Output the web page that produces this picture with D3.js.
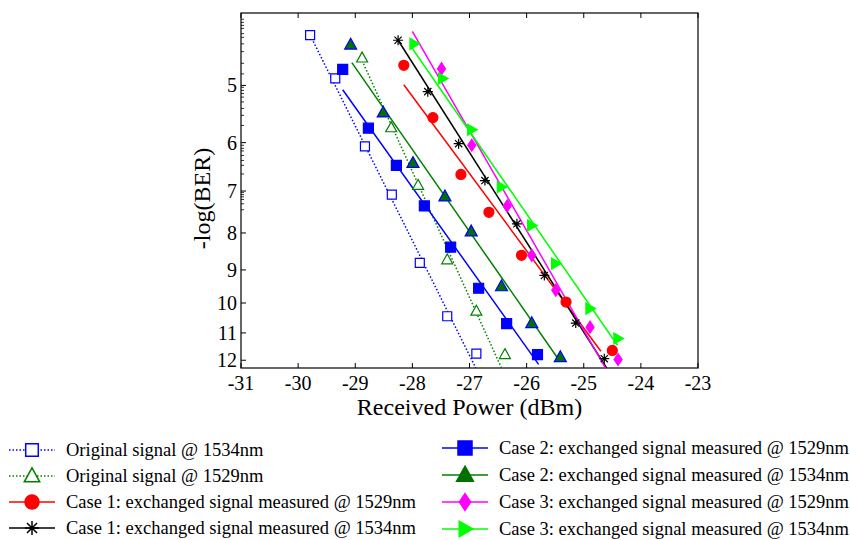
<!DOCTYPE html>
<html>
<head>
<meta charset="utf-8">
<script src="https://cdn.jsdelivr.net/npm/d3@7"></script>
<style>
  body { margin: 0; background: #fff; }
  svg text { font-family: "Liberation Serif", "Times New Roman", serif; fill: #000; }
</style>
</head>
<body>
<div id="chart"></div>
<script>
// tick values
var xTicks = [-31, -30, -29, -28, -27, -26, -25, -24, -23];
var yTicks = [5, 6, 7, 8, 9, 10, 11, 12];
var yMinorTicks = [4.05, 4.09, 4.13, 4.17, 4.24, 4.29, 4.38, 4.49, 4.66, 4.82,
                   5.03, 5.08, 5.13, 5.19, 5.27, 5.38, 5.5, 5.68,
                   6.05, 6.11, 6.16, 6.25, 6.35, 6.45, 6.63,
                   7.03, 7.08, 7.13, 7.19, 7.29, 7.43];

// measured points, x = received power (dBm), y = -log(BER)
var orig1534X = [-29.79, -29.35, -28.83, -28.36, -27.87, -27.39, -26.88];
var orig1534Y = [4.26, 4.89, 6.07, 7.08, 8.80, 10.43, 11.75];
var orig1529X = [-28.88, -28.37, -27.90, -27.39, -26.88, -26.38];
var orig1529Y = [4.58, 5.72, 6.87, 8.71, 10.26, 11.78];
var c1m1529X = [-28.15, -27.64, -27.15, -26.66, -26.09, -25.31, -24.50];
var c1m1529Y = [4.69, 5.54, 6.64, 7.49, 8.59, 9.97, 11.63];
var c1m1534X = [-28.25, -27.73, -27.19, -26.73, -26.17, -25.69, -25.14, -24.64];
var c1m1534Y = [4.33, 5.10, 6.02, 6.77, 7.77, 9.16, 10.66, 11.94];
var c2m1529X = [-29.22, -28.77, -28.28, -27.79, -27.33, -26.84, -26.35, -25.81];
var c2m1529Y = [4.75, 5.73, 6.45, 7.34, 8.37, 9.54, 10.68, 11.79];
var c2m1534X = [-29.08, -28.51, -27.99, -27.43, -26.97, -26.44, -25.91, -25.41];
var c2m1534Y = [4.39, 5.45, 6.40, 7.12, 7.96, 9.48, 10.66, 11.88];
var c3m1529X = [-27.49, -26.96, -26.34, -25.91, -25.49, -24.89, -24.40];
var c3m1529Y = [4.74, 6.05, 7.34, 8.59, 9.60, 10.80, 11.97];
var c3m1534X = [-27.97, -27.47, -26.96, -26.44, -25.91, -25.49, -24.89, -24.40];
var c3m1534Y = [4.38, 4.89, 5.76, 6.91, 7.81, 8.82, 10.18, 11.20];

// fitted lines: [start, end] as [power, -log(BER)]
var fitOrig1534 = [[-29.79, 4.26], [-26.89, 12.3]];
var fitOrig1529 = [[-28.88, 4.62], [-26.44, 12.3]];
var fitC1m1529 = [[-28.15, 4.99], [-24.70, 11.66]];
var fitC1m1534 = [[-28.25, 4.33], [-24.60, 12.3]];
var fitC2m1529 = [[-29.22, 5.07], [-25.79, 12.16]];
var fitC2m1534 = [[-29.06, 4.65], [-25.44, 11.97]];
var fitC3m1529 = [[-28.00, 4.21], [-24.62, 12.3]];
var fitC3m1534 = [[-28.04, 4.40], [-24.41, 11.44]];

var series = [
  {name: "Original signal @ 1534nm", xs: orig1534X, ys: orig1534Y, fit: fitOrig1534,
   color: "#0000ff", dash: "1.5,2", shape: "square", fill: "#fff", edge: "#0000ff", size: 9, col: 0, row: 0},
  {name: "Original signal @ 1529nm", xs: orig1529X, ys: orig1529Y, fit: fitOrig1529,
   color: "#008000", dash: "1.5,2", shape: "triangle", fill: "#fff", edge: "#008000", size: 11, col: 0, row: 1},
  {name: "Case 1: exchanged signal measured @ 1529nm", xs: c1m1529X, ys: c1m1529Y, fit: fitC1m1529,
   color: "#ff0000", dash: null, shape: "circle", fill: "#ff0000", edge: "#ff0000", size: 10, col: 0, row: 2},
  {name: "Case 1: exchanged signal measured @ 1534nm", xs: c1m1534X, ys: c1m1534Y, fit: fitC1m1534,
   color: "#000000", dash: null, shape: "asterisk", fill: "none", edge: "#000000", size: 10, col: 0, row: 3},
  {name: "Case 2: exchanged signal measured @ 1529nm", xs: c2m1529X, ys: c2m1529Y, fit: fitC2m1529,
   color: "#0000ff", dash: null, shape: "square", fill: "#0000ff", edge: "#0000ff", size: 10, col: 1, row: 0},
  {name: "Case 2: exchanged signal measured @ 1534nm", xs: c2m1534X, ys: c2m1534Y, fit: fitC2m1534,
   color: "#008000", dash: null, shape: "triangle", fill: "#007000", edge: "#0000ff", size: 12, col: 1, row: 1},
  {name: "Case 3: exchanged signal measured @ 1529nm", xs: c3m1529X, ys: c3m1529Y, fit: fitC3m1529,
   color: "#ff00ff", dash: null, shape: "diamond", fill: "#ff00ff", edge: "#ff00ff", size: 10, col: 1, row: 2},
  {name: "Case 3: exchanged signal measured @ 1534nm", xs: c3m1534X, ys: c3m1534Y, fit: fitC3m1534,
   color: "#00ff00", dash: null, shape: "triRight", fill: "#00ff00", edge: "#00ff00", size: 11, col: 1, row: 3}
];

var width = 850, height = 540;
var pLeft = 241, pRight = 698, pTop = 13, pBottom = 368;

var svg = d3.select("#chart").append("svg")
    .attr("width", width).attr("height", height);

var x = d3.scaleLinear().domain([-31, -23]).range([pLeft, pRight]);
var y = d3.scaleLog().domain([3.97, 12.3]).range([pTop, pBottom]);

function markerPath(shape, s) {
    var h = s / 2;
    if (shape == "square") return "M" + (-h) + "," + (-h) + "H" + h + "V" + h + "H" + (-h) + "Z";
    if (shape == "triangle") return "M0," + (-h * 1.05) + "L" + h + "," + (h * 0.75) + "L" + (-h) + "," + (h * 0.75) + "Z";
    if (shape == "circle") return d3.symbol(d3.symbolCircle, Math.PI * h * h)();
    if (shape == "diamond") return "M0," + (-h * 1.2) + "L" + (h * 0.8) + ",0L0," + (h * 1.2) + "L" + (-h * 0.8) + ",0Z";
    if (shape == "triRight") return "M" + h + ",0L" + (-h * 0.75) + "," + (-h) + "L" + (-h * 0.75) + "," + h + "Z";
    // asterisk
    var d = h * 0.72;
    return "M" + (-h) + ",0H" + h + "M0," + (-h) + "V" + h +
           "M" + (-d) + "," + (-d) + "L" + d + "," + d + "M" + (-d) + "," + d + "L" + d + "," + (-d);
}

svg.append("defs").append("clipPath").attr("id", "plotclip")
  .append("rect").attr("x", pLeft).attr("y", pTop)
    .attr("width", pRight - pLeft).attr("height", pBottom - pTop);

// frame
svg.append("rect")
    .attr("x", pLeft).attr("y", pTop)
    .attr("width", pRight - pLeft).attr("height", pBottom - pTop)
    .attr("fill", "none").attr("stroke", "#000").attr("stroke-width", 1.2);

// x ticks, bottom and top, pointing inward
var gx = svg.append("g");
gx.selectAll(".xb").data(xTicks).enter().append("line")
    .attr("x1", d => x(d)).attr("x2", d => x(d))
    .attr("y1", pBottom).attr("y2", pBottom - 5)
    .attr("stroke", "#000");
gx.selectAll(".xt").data(xTicks).enter().append("line")
    .attr("x1", d => x(d)).attr("x2", d => x(d))
    .attr("y1", pTop).attr("y2", pTop + 5)
    .attr("stroke", "#000");
gx.selectAll("text").data(xTicks).enter().append("text")
    .attr("x", d => x(d)).attr("y", pBottom + 22)
    .attr("text-anchor", "middle")
    .style("font-size", "20px")
    .text(d => d);

// y ticks
var gy = svg.append("g");
gy.selectAll(".ym").data(yTicks).enter().append("line")
    .attr("x1", pLeft).attr("x2", pLeft + 5)
    .attr("y1", d => y(d)).attr("y2", d => y(d))
    .attr("stroke", "#000");
gy.selectAll(".yn").data(yMinorTicks).enter().append("line")
    .attr("x1", pLeft).attr("x2", pLeft + 3)
    .attr("y1", d => y(d)).attr("y2", d => y(d))
    .attr("stroke", "#000").attr("stroke-width", 0.8);
gy.selectAll("text").data(yTicks).enter().append("text")
    .attr("x", pLeft - 4).attr("y", d => y(d) + 7)
    .attr("text-anchor", "end")
    .style("font-size", "20px")
    .text(d => d);

svg.append("text")
    .attr("x", (pLeft + pRight) / 2).attr("y", pBottom + 47)
    .attr("text-anchor", "middle")
    .style("font-size", "24px")
    .text("Received Power (dBm)");

svg.append("text")
    .attr("transform", "translate(" + 210 + "," + ((pTop + pBottom) / 2 + 8) + ") rotate(-90)")
    .attr("text-anchor", "middle")
    .style("font-size", "24px")
    .text("-log(BER)");

// fit lines
var plot = svg.append("g").attr("clip-path", "url(#plotclip)");
var line = d3.line().x(d => x(d[0])).y(d => y(d[1]));

series.forEach(function(s) {
    plot.append("path")
        .attr("d", line(s.fit))
        .attr("fill", "none")
        .attr("stroke", s.color)
        .attr("stroke-width", 1.5)
        .attr("stroke-dasharray", s.dash);
});

// markers
series.forEach(function(s) {
    var pts = s.xs.map((v, i) => [v, s.ys[i]]);
    svg.append("g").selectAll("path").data(pts).enter().append("path")
        .attr("transform", d => "translate(" + x(d[0]) + "," + y(d[1]) + ")")
        .attr("d", markerPath(s.shape, s.size))
        .attr("fill", s.fill)
        .attr("stroke", s.edge)
        .attr("stroke-width", 1.2);
});

// legend
var legCols = [{x0: 9, x1: 55, tx: 66, ys: [450, 476, 502, 528]},
               {x0: 442, x1: 488, tx: 499, ys: [448, 475, 502, 529]}];
series.forEach(function(s) {
    var c = legCols[s.col];
    var ly = c.ys[s.row];
    var solidTri = s.shape == "triangle" && s.fill == "#007000";
    var g = svg.append("g");
    g.append("line")
        .attr("x1", c.x0).attr("x2", c.x1).attr("y1", ly).attr("y2", ly)
        .attr("stroke", s.color).attr("stroke-width", 1.5)
        .attr("stroke-dasharray", s.dash);
    g.append("path")
        .attr("transform", "translate(" + ((c.x0 + c.x1) / 2) + "," + ly + ")")
        .attr("d", markerPath(s.shape, s.size * 1.4))
        .attr("fill", s.fill)
        .attr("stroke", solidTri ? "#007000" : s.edge)
        .attr("stroke-width", 1.5);
    g.append("text")
        .attr("x", c.tx).attr("y", ly + 6)
        .style("font-size", "18.5px")
        .text(s.name);
});
</script>
</body>
</html>
